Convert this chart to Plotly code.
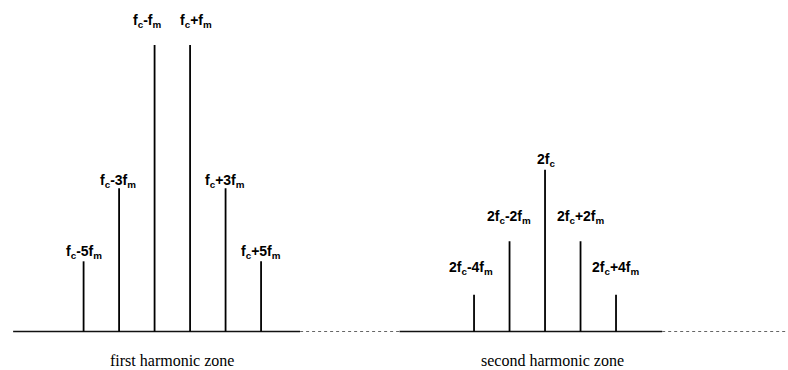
import plotly.graph_objects as go

# Spectrum of a PWM-style waveform: carrier fc and modulating fm (in units of fm)
fc = 21.0
fm = 1.0

# First harmonic zone: sidebands at fc ± (1,3,5) fm
first_labels = ["f<sub>c</sub>-5f<sub>m</sub>", "f<sub>c</sub>-3f<sub>m</sub>", "f<sub>c</sub>-f<sub>m</sub>",
                "f<sub>c</sub>+f<sub>m</sub>", "f<sub>c</sub>+3f<sub>m</sub>", "f<sub>c</sub>+5f<sub>m</sub>"]
first_orders = [-5, -3, -1, 1, 3, 5]
first_amps = [0.245, 0.50, 1.00, 1.00, 0.50, 0.245]

# Second harmonic zone: 2fc and sidebands at 2fc ± (2,4) fm
second_labels = ["2f<sub>c</sub>-4f<sub>m</sub>", "2f<sub>c</sub>-2f<sub>m</sub>", "2f<sub>c</sub>",
                 "2f<sub>c</sub>+2f<sub>m</sub>", "2f<sub>c</sub>+4f<sub>m</sub>"]
second_orders = [-4, -2, 0, 2, 4]
second_amps = [0.128, 0.315, 0.565, 0.315, 0.128]

zone_names = ["first harmonic zone", "second harmonic zone"]

# label placement relative to each line top (px)
first_gaps = [17, 15, 32, 32, 15, 17]
second_gaps = [35, 32, 18, 32, 35]
first_xshift = [0, -1, -8, 6, -1, 0]
second_xshift = [-3, -1, 1, 0, 0]

X_RANGE = [11.29, 55.69]
Y_RANGE = [-0.1344, 1.1571]

freqs1 = [fc + k * fm for k in first_orders]
freqs2 = [2 * fc + k * fm for k in second_orders]


def stems(xs, ys):
    sx, sy = [], []
    for x, y in zip(xs, ys):
        sx += [x, x, None]
        sy += [0, y, None]
    return sx, sy


def bold(t):
    return "<b>" + t.replace("<sub>", "<sub><b>").replace("</sub>", "</b></sub>") + "</b>"


fig = go.Figure()

# baseline: solid through each zone, faint dotted between and after
base_solid = [(12.03, 28.2), (33.8, 48.6)]
base_dotted = [(28.2, 33.8), (48.6, 55.6)]
for a, b in base_solid:
    fig.add_trace(go.Scatter(x=[a, b], y=[0, 0], mode="lines",
                             line=dict(color="#111111", width=1.6), hoverinfo="skip"))
for a, b in base_dotted:
    fig.add_trace(go.Scatter(x=[a, b], y=[0, 0], mode="lines",
                             line=dict(color="#666666", width=1.2, dash="dot"), hoverinfo="skip"))

for xs, ys in [(freqs1, first_amps), (freqs2, second_amps)]:
    sx, sy = stems(xs, ys)
    fig.add_trace(go.Scatter(x=sx, y=sy, mode="lines",
                             line=dict(color="#000000", width=1.8), hoverinfo="skip"))

label_font = dict(family="Liberation Sans, Arial, sans-serif", size=14, color="#000000")
for xs, ys, labs, gaps, shifts in [(freqs1, first_amps, first_labels, first_gaps, first_xshift),
                                   (freqs2, second_amps, second_labels, second_gaps, second_xshift)]:
    for x, y, t, g, s in zip(xs, ys, labs, gaps, shifts):
        fig.add_annotation(x=x, y=y, text=bold(t),
                           showarrow=False, xanchor="center", yanchor="top",
                           xshift=s, yshift=g + 3, font=label_font)

zone_font = dict(family="Liberation Serif, Times New Roman, serif", size=16, color="#000000")
for cx, name in zip([fc, 2 * fc + 0.4], zone_names):
    fig.add_annotation(x=cx, y=1 - 360 / 370, xref="x", yref="paper", text=name, showarrow=False,
                       xanchor="center", yanchor="middle", font=zone_font)

fig.update_layout(
    width=788, height=370,
    margin=dict(l=0, r=0, t=0, b=0),
    paper_bgcolor="white", plot_bgcolor="white",
    showlegend=False,
    xaxis=dict(range=X_RANGE, visible=False, fixedrange=True),
    yaxis=dict(range=Y_RANGE, visible=False, fixedrange=True),
)

fig.write_html("out.html")
